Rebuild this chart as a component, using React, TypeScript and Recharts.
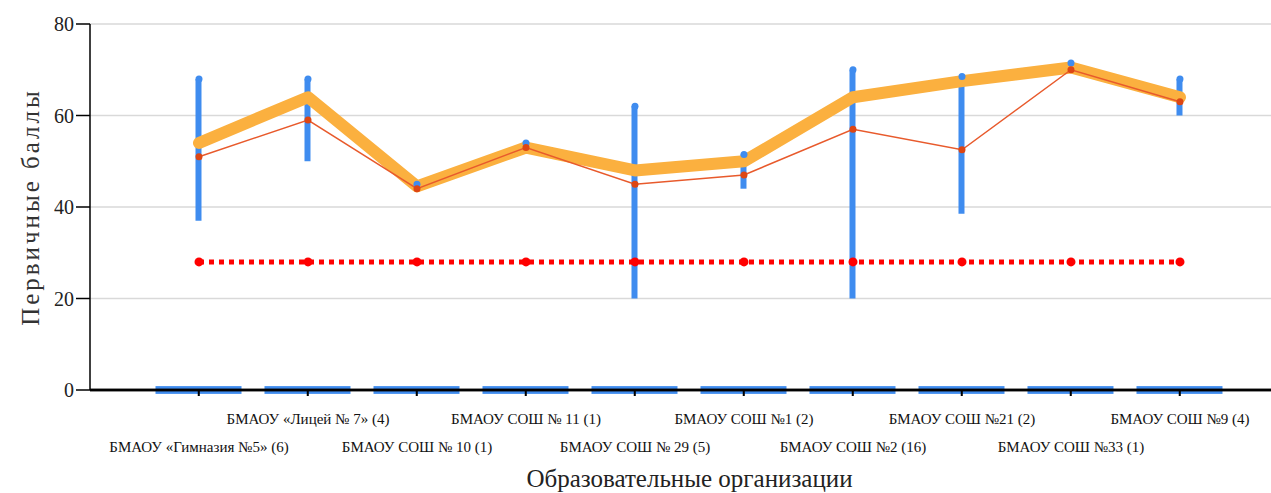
import { Bar, CartesianGrid, ComposedChart, Line, ReferenceLine, XAxis, YAxis } from 'recharts';

const ORGS = [
  'БМАОУ «Гимназия №5» (6)',
  'БМАОУ «Лицей № 7» (4)',
  'БМАОУ СОШ № 10 (1)',
  'БМАОУ СОШ № 11 (1)',
  'БМАОУ СОШ № 29 (5)',
  'БМАОУ СОШ №1 (2)',
  'БМАОУ СОШ №2 (16)',
  'БМАОУ СОШ №21 (2)',
  'БМАОУ СОШ №33 (1)',
  'БМАОУ СОШ №9 (4)',
];
const MIN_SCORES = [37, 50, 44, 53, 20, 44, 20, 38.5, 70, 60];
const MAX_SCORES = [68, 68, 45, 54, 62, 51.5, 70, 68.5, 71.5, 68];
const MEDIAN_SCORES = [54, 64, 44.5, 53, 48, 50, 64, 67.5, 70.5, 64];
const MEAN_SCORES = [51, 59, 44, 53, 45, 47, 57, 52.5, 70, 63];
const PASS_SCORE = [28, 28, 28, 28, 28, 28, 28, 28, 28, 28];
const ZERO_BAND = 0.85; // half-height of the band drawn around 0
const Y_TICKS = [0, 20, 40, 60, 80];

const data = ORGS.map((name, i) => ({
  x: i + 1,
  name,
  range: [MIN_SCORES[i], MAX_SCORES[i]],
  max: MAX_SCORES[i],
  median: MEDIAN_SCORES[i],
  mean: MEAN_SCORES[i],
  pass: PASS_SCORE[i],
  zero: ZERO_BAND,
}));

const SERIF = '"Liberation Serif", "Times New Roman", serif';
const BLUE = '#3f8cef';
const ORANGE = '#fbb03f';

function OrgTick({ x, y, payload }: any) {
  const i = Math.round(payload.value) - 1;
  const row = i % 2 === 1 ? 0 : 1;
  return (
    <text x={x} y={y + 26 + row * 28} textAnchor="middle" fontFamily={SERIF} fontSize={15} fill="#111">
      {ORGS[i]}
    </text>
  );
}

// band centred on the zero line: mirror the bar below the baseline,
// and redraw the axis tick mark on top of it
function ZeroBand({ x, y, width, height }: any) {
  const base = y + height;
  const cx = x + width / 2;
  return (
    <g>
      <rect x={x} y={y} width={width} height={height * 2} fill={BLUE} />
      <line x1={cx} x2={cx} y1={base} y2={base + 6} stroke="#000" strokeWidth={1.5} />
    </g>
  );
}

function YTitle({ viewBox }: any) {
  const cx = 30;
  const cy = viewBox.y + viewBox.height / 2;
  return (
    <text
      x={cx}
      y={cy}
      transform={`rotate(-90 ${cx} ${cy})`}
      textAnchor="middle"
      dominantBaseline="central"
      fontFamily={SERIF}
      fontSize={25}
      letterSpacing={3}
      fill="#333"
    >
      Первичные баллы
    </text>
  );
}

export default function App() {
  return (
    <div style={{ position: 'absolute', left: 0, top: 0, background: '#fff' }}>
      <ComposedChart width={1271} height={493} data={data} margin={{ top: 24, right: 0, bottom: 0, left: 0 }}>
        <CartesianGrid stroke="#d9d9d9" strokeWidth={1.5} vertical={false} />
        <XAxis xAxisId="b" dataKey="x" type="number" domain={[0, 10.835]} hide />
        <YAxis
          type="number"
          domain={[0, 80]}
          ticks={Y_TICKS}
          width={90}
          tickSize={14}
          tick={{ fontFamily: SERIF, fontSize: 20, fill: '#222' }}
          axisLine={{ stroke: '#000', strokeWidth: 1.5 }}
          tickLine={{ stroke: '#000', strokeWidth: 1.5 }}
          label={<YTitle />}
        />
        <Bar xAxisId="b" dataKey="range" barSize={6} fill={BLUE} isAnimationActive={false} />
        <Line
          xAxisId="b"
          dataKey="max"
          stroke="none"
          dot={{ r: 3.5, fill: BLUE, stroke: 'none' }}
          isAnimationActive={false}
        />
        <XAxis
          dataKey="x"
          type="number"
          domain={[0, 10.835]}
          ticks={[1, 2, 3, 4, 5, 6, 7, 8, 9, 10]}
          interval={0}
          height={103}
          tickSize={6}
          axisLine={{ stroke: '#000', strokeWidth: 2.5 }}
          tickLine={{ stroke: '#000', strokeWidth: 1.5 }}
          tick={<OrgTick />}
          label={{
            value: 'Образовательные организации',
            position: 'insideBottom',
            offset: 6,
            dx: 9,
            style: { fontFamily: SERIF, fontSize: 25, fill: '#222' },
          }}
        />
        <Bar dataKey="zero" barSize={86} shape={<ZeroBand />} isAnimationActive={false} />
        <ReferenceLine y={0} stroke="#111" strokeWidth={2.5} />
        <Line
          xAxisId="b"
          dataKey="median"
          stroke={ORANGE}
          strokeWidth={12}
          strokeLinejoin="round"
          strokeLinecap="round"
          dot={false}
          isAnimationActive={false}
        />
        <Line
          xAxisId="b"
          dataKey="mean"
          stroke="#e85a2c"
          strokeWidth={1.5}
          dot={{ r: 3.5, fill: '#dd4614', stroke: 'none' }}
          isAnimationActive={false}
        />
        <Line
          xAxisId="b"
          dataKey="pass"
          stroke="#ff0000"
          strokeWidth={5}
          strokeDasharray="5 5"
          dot={{ r: 4.5, fill: '#ff0000', stroke: 'none' }}
          isAnimationActive={false}
        />
      </ComposedChart>
    </div>
  );
}
